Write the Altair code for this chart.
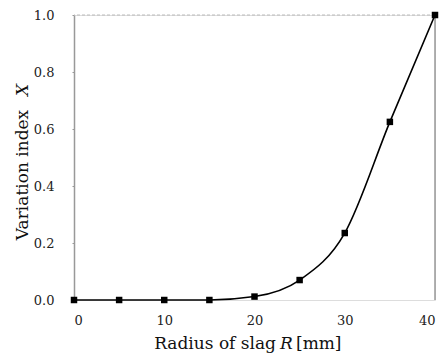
import altair as alt
import pandas as pd

radius = [0, 5, 10, 15, 20, 25, 30, 35, 40]
variation = [0.0, 0.0, 0.0, 0.0, 0.012, 0.07, 0.235, 0.625, 1.0]
x_ticks = [0, 10, 20, 30, 40]
y_ticks = [0.0, 0.2, 0.4, 0.6, 0.8, 1.0]

df = pd.DataFrame({"R": radius, "X": variation})

W, H = 361, 285
FONT = "DejaVu Serif"

xs = alt.X("R:Q", scale=alt.Scale(domain=[0, 40], nice=False),
           axis=alt.Axis(values=x_ticks, title=None, domain=False, ticks=False,
                         grid=False, labelPadding=14, labelFontSize=13,
                         labelFont=FONT, labelColor="#222"))
ys = alt.Y("X:Q", scale=alt.Scale(domain=[0, 1], nice=False),
           axis=alt.Axis(values=y_ticks, format=".1f", title=None, domain=True,
                         domainColor="#999", domainWidth=1.5, ticks=True,
                         tickSize=2, tickColor="#999", grid=False,
                         labelPadding=18, labelFontSize=13, labelFont=FONT,
                         labelColor="#222"))

base = alt.Chart(df)
line = base.mark_line(color="black", strokeWidth=1.6, interpolate="monotone").encode(x=xs, y=ys)
pts = base.mark_square(color="black", size=42, opacity=1).encode(x="R:Q", y="X:Q")

right = alt.Chart(pd.DataFrame({"R": [40]})).mark_rule(color="#999", strokeWidth=1.5).encode(x="R:Q")
top = alt.Chart(pd.DataFrame({"X": [1.0]})).mark_rule(color="#bbb", strokeWidth=1.2,
                                                     strokeDash=[3, 2]).encode(y="X:Q")

ttl = alt.Chart(pd.DataFrame({"a": [0]}))
t1 = ttl.mark_text(text="Radius of slag", font=FONT, fontSize=17, align="right",
                   baseline="alphabetic", color="#111").encode(x=alt.value(202), y=alt.value(334))
t2 = ttl.mark_text(text="R", font=FONT, fontSize=17, fontStyle="italic", align="left",
                   baseline="alphabetic", color="#111").encode(x=alt.value(206), y=alt.value(334))
t3 = ttl.mark_text(text="[mm]", font=FONT, fontSize=17, align="left",
                   baseline="alphabetic", color="#111").encode(x=alt.value(222), y=alt.value(334))
t4 = ttl.mark_text(text="Variation index", font=FONT, fontSize=17, angle=270, align="center",
                   baseline="middle", color="#111").encode(x=alt.value(-51), y=alt.value(160))
t5 = ttl.mark_text(text="X", font=FONT, fontSize=17, fontStyle="italic", angle=270,
                   align="center", baseline="middle", color="#111").encode(x=alt.value(-51), y=alt.value(75))

chart = alt.layer(top, right, line, pts, t1, t2, t3, t4, t5).properties(
    width=W, height=H,
    autosize=alt.AutoSizeParams(type="none"),
    padding={"left": 66, "top": 7, "right": 4, "bottom": 54},
).configure_view(stroke=None).configure(background="white")

chart.save("out.html", embed_options={"renderer": "svg", "actions": False})
